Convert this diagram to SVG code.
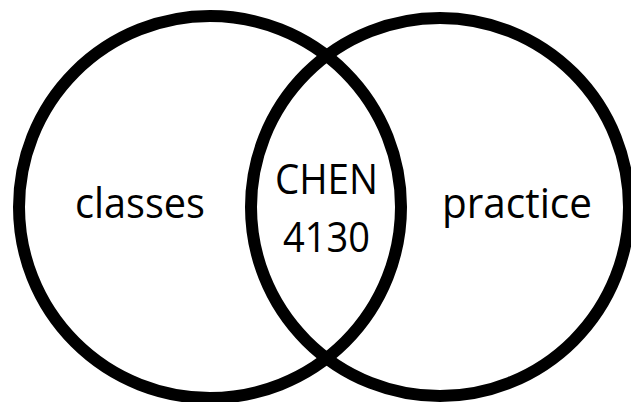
<svg xmlns="http://www.w3.org/2000/svg" width="631" height="402" viewBox="0 0 631 402">
<style>
.c{fill:none;stroke:#000;stroke-width:12}
.t{font-family:"Open Sans","Noto Sans","Liberation Sans",sans-serif;font-size:42px;fill:#000}
</style>
<rect width="631" height="402" fill="#fff"/>
<g id="left">
<circle class="c" cx="210" cy="207" r="191"/>
<text class="t" x="75" y="218" textLength="130" lengthAdjust="spacingAndGlyphs">classes</text>
</g>
<g id="right">
<circle class="c" cx="440" cy="207" r="189"/>
<text class="t" x="442" y="218" textLength="150" lengthAdjust="spacingAndGlyphs">practice</text>
</g>
<g id="overlap">
<text class="t" x="275" y="194" textLength="103" lengthAdjust="spacingAndGlyphs">CHEN</text>
<text class="t" x="283" y="252" textLength="87" lengthAdjust="spacingAndGlyphs">4130</text>
</g>
<g id="connectors"/>
</svg>
